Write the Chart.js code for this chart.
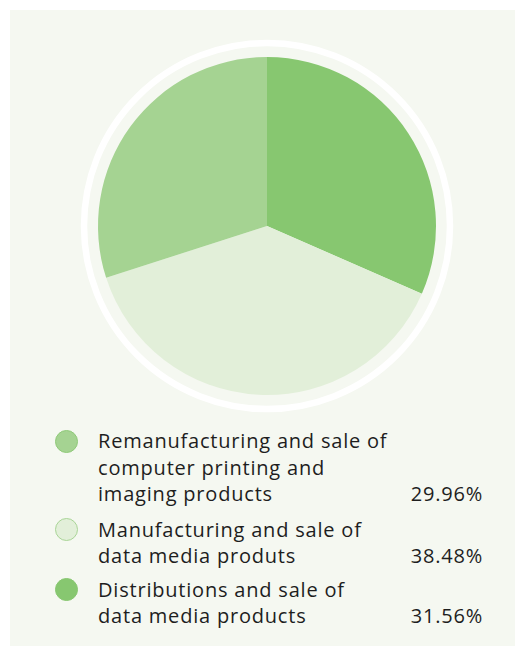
<!DOCTYPE html>
<html>
<head>
<meta charset="utf-8">
<script src="https://cdn.jsdelivr.net/npm/chart.js@4"></script>
<style>
  html, body { margin: 0; padding: 0; background: #ffffff; }
  body { width: 515px; height: 646px; position: relative; overflow: hidden;
         font-family: "Open Sans", "Noto Sans", sans-serif; color: #1e1e1e; }
  #panel { position: absolute; left: 10px; top: 10px; width: 505px; height: 636px; background: #f5f8f1; }
  #pieBox { position: absolute; left: 77px; top: 36px; width: 380px; height: 380px; }
  .item { position: absolute; left: 0; width: 515px; font-size: 20px; line-height: 26.5px; letter-spacing: 0.8px; }
  .dot { position: absolute; left: 55px; width: 21px; height: 21px; border-radius: 50%; border: 1px solid; }
  .txt { position: absolute; left: 98px; white-space: nowrap; }
  .val { position: absolute; right: 32px; white-space: nowrap; }
</style>
</head>
<body>
<div id="panel"></div>
<div id="pieBox"><canvas id="pie"></canvas></div>
<div id="legend"></div>
<script>
// legend order (top to bottom)
const categories = [
  ['Remanufacturing and sale of', 'computer printing and', 'imaging products'],
  ['Manufacturing and sale of', 'data media produts'],
  ['Distributions and sale of', 'data media products']
];
const shares = [29.96, 38.48, 31.56];
const fillColors = ['#a5d392', '#e2efd9', '#87c770'];
const edgeColors = ['#8fca79', '#a9d597', '#87c770'];
const legendTops = [428, 516.5, 576.5];

// pie is drawn clockwise from 12 o'clock: Distributions, Manufacturing, Remanufacturing
const pieOrder = [2, 1, 0];

const ringPlugin = {
  id: 'ring',
  afterDatasetsDraw(chart) {
    const arc = chart.getDatasetMeta(0).data[0];
    if (!arc) return;
    const c = chart.ctx;
    c.save();
    c.beginPath();
    c.arc(arc.x, arc.y, arc.outerRadius + 14, 0, Math.PI * 2);
    c.lineWidth = 6.5;
    c.strokeStyle = '#ffffff';
    c.stroke();
    c.restore();
  }
};

new Chart(document.getElementById('pie'), {
  type: 'pie',
  data: {
    labels: pieOrder.map(i => categories[i].join(' ')),
    datasets: [{
      data: pieOrder.map(i => shares[i]),
      backgroundColor: pieOrder.map(i => fillColors[i]),
      borderWidth: 0,
      hoverOffset: 0
    }]
  },
  options: {
    responsive: true,
    maintainAspectRatio: false,
    animation: false,
    radius: 169,
    layout: { padding: 0 },
    plugins: { legend: { display: false }, tooltip: { enabled: false } }
  },
  plugins: [ringPlugin]
});

// html legend
const legend = document.getElementById('legend');
categories.forEach((lines, i) => {
  const item = document.createElement('div');
  item.className = 'item';
  item.style.top = legendTops[i] + 'px';
  item.style.height = (lines.length * 26.5) + 'px';

  const dot = document.createElement('div');
  dot.className = 'dot';
  dot.style.top = '1.5px';
  dot.style.background = fillColors[i];
  dot.style.borderColor = edgeColors[i];
  item.appendChild(dot);

  const txt = document.createElement('div');
  txt.className = 'txt';
  txt.style.top = '0px';
  txt.innerHTML = lines.join('<br>');
  item.appendChild(txt);

  const val = document.createElement('div');
  val.className = 'val';
  val.style.top = ((lines.length - 1) * 26.5) + 'px';
  val.textContent = shares[i].toFixed(2) + '%';
  item.appendChild(val);

  legend.appendChild(item);
});
</script>
</body>
</html>
